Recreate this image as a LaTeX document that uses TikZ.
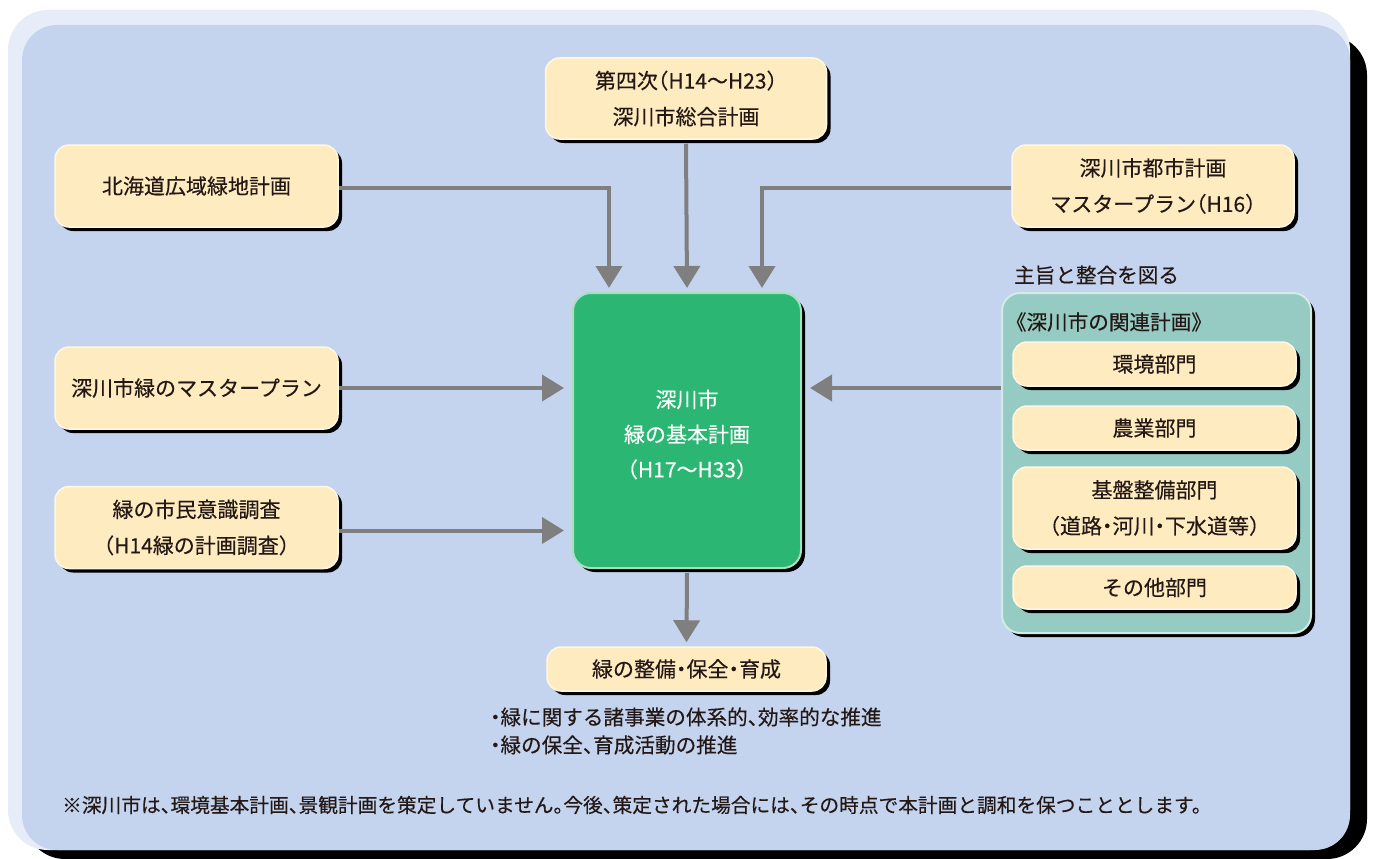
\documentclass[tikz,border=0pt]{standalone}
\usepackage{fontspec}
\setmainfont{Noto Sans CJK JP}[RawFeature=+halt, FakeBold=0.3]
\usetikzlibrary{arrows.meta,shadows}
\definecolor{bgblue}{HTML}{C5D4EE}
\definecolor{rim}{HTML}{E6EDF8}
\definecolor{cream}{HTML}{FFEBC0}
\definecolor{creamhi}{HTML}{FFF7E4}
\definecolor{grn}{HTML}{2BB673}
\definecolor{grnhi}{HTML}{A9DEC0}
\definecolor{tealc}{HTML}{96CBC3}
\definecolor{tealhi}{HTML}{D3EBE7}
\definecolor{arrgray}{HTML}{7F7F7F}
\definecolor{txt}{HTML}{231815}
\tikzset{
  shad/.style={drop shadow={shadow xshift=4pt, shadow yshift=-4pt, opacity=1, fill=black}},
  cbox/.style={rectangle, rounded corners=14pt, fill=cream, draw=creamhi, line width=1.5pt,
    text=txt, font=\fontsize{21}{36}\selectfont, align=center, inner sep=0pt, shad},
  gbox/.style={rectangle, rounded corners=18pt, fill=grn, draw=grnhi, line width=2pt, inner sep=0pt, shad},
  gtext/.style={text=white, font=\fontsize{21}{35}\selectfont, align=center, inner sep=0pt},
  pbox/.style={rectangle, rounded corners=18pt, fill=tealc, draw=tealhi, line width=2pt, inner sep=0pt, shad},
  lbl/.style={text=txt, font=\fontsize{20.6}{28}\selectfont, inner sep=0pt, anchor=west},
  arr/.style={draw=arrgray, line width=4pt, -{Triangle[width=26pt,length=22pt]}},
}
\begin{document}
\begin{tikzpicture}[x=1pt,y=-1pt]
\useasboundingbox (0,0) rectangle (1374,859);
\fill[white] (0,0) rectangle (1374,859);
% background panel
\fill[black, rounded corners=40pt] (25,35) rectangle (1367,859);
\fill[rim, rounded corners=40pt] (8,10) rectangle (1350,850);
\fill[bgblue, rounded corners=35pt] (22,25) rectangle (1350,850);

% boxes
\node[cbox, minimum width=283pt, minimum height=82pt] (hk) at (196.5,186) {北海道広域緑地計画};
\node[cbox, minimum width=281pt, minimum height=81pt] (d4) at (686,98.5) {第四次（H14～H23）\\深川市総合計画};
\node[cbox, minimum width=282pt, minimum height=82pt] (tk) at (1153,186) {深川市都市計画\\マスタープラン（H16）};
\node[cbox, minimum width=283pt, minimum height=82pt] (mp) at (196.5,388) {深川市緑のマスタープラン};
\node[cbox, minimum width=283pt, minimum height=82pt] (sm) at (196.5,527.5) {緑の市民意識調査\\（H14緑の計画調査）};
\node[gbox, minimum width=228pt, minimum height=275pt] (green) at (687,430.5) {};
\node[gtext] (gt) at ([yshift=-4pt]green.center) {深川市\\緑の基本計画\\（H17～H33）};
\node[cbox, minimum width=279pt, minimum height=44pt] (out) at (686.5,669) {緑の整備・保全・育成};

% related plans panel
\node[lbl] (shushi) at (1014,275) {主旨と整合を図る};
\node[pbox, minimum width=309pt, minimum height=340pt] (panel) at (1156.5,463) {};
\node[lbl] (kanren) at (1016,322) {《深川市の関連計画》};
\node[cbox, minimum width=283pt, minimum height=44pt] (env) at (1154.5,364) {環境部門};
\node[cbox, minimum width=283pt, minimum height=44pt] (agr) at (1154.5,428) {農業部門};
\node[cbox, minimum width=283pt, minimum height=82pt] (inf) at (1154.5,508) {基盤整備部門\\（道路・河川・下水道等）};
\node[cbox, minimum width=283pt, minimum height=43pt] (oth) at (1154.5,587.5) {その他部門};

% texts
\node[lbl] (b1) at (490,717) {・緑に関する諸事業の体系的、効率的な推進};
\node[lbl] (b2) at (490,745) {・緑の保全、育成活動の推進};
\node[lbl, font=\fontsize{19.7}{28}\selectfont] (foot) at (62,805) {※深川市は、環境基本計画、景観計画を策定していません。今後、策定された場合には、その時点で本計画と調和を保つこととします。};

% connectors
\coordinate (t1) at ([xshift=-78pt,yshift=4pt]green.north);
\coordinate (t2) at ([yshift=4pt]green.north);
\coordinate (t3) at ([xshift=75pt,yshift=4pt]green.north);
\draw[arr] ([yshift=-2pt]hk.east) -| (t1);
\draw[arr] ([yshift=-4pt]d4.south) -- (t2);
\draw[arr] ([yshift=-2pt]tk.west) -| (t3);
\draw[arr] (mp.east) -- ([xshift=-8pt]green.west |- mp.east);
\draw[arr] ([yshift=-3pt]sm.east) -- ([xshift=-8pt,yshift=-3pt]green.west |- sm.east);
\coordinate (pw) at (panel.west |- mp.east);
\draw[arr] (pw) -- ([xshift=8pt]green.east |- pw);
\draw[arr] ([yshift=-4pt]green.south) -- ([yshift=4pt]out.north);
\end{tikzpicture}
\end{document}
